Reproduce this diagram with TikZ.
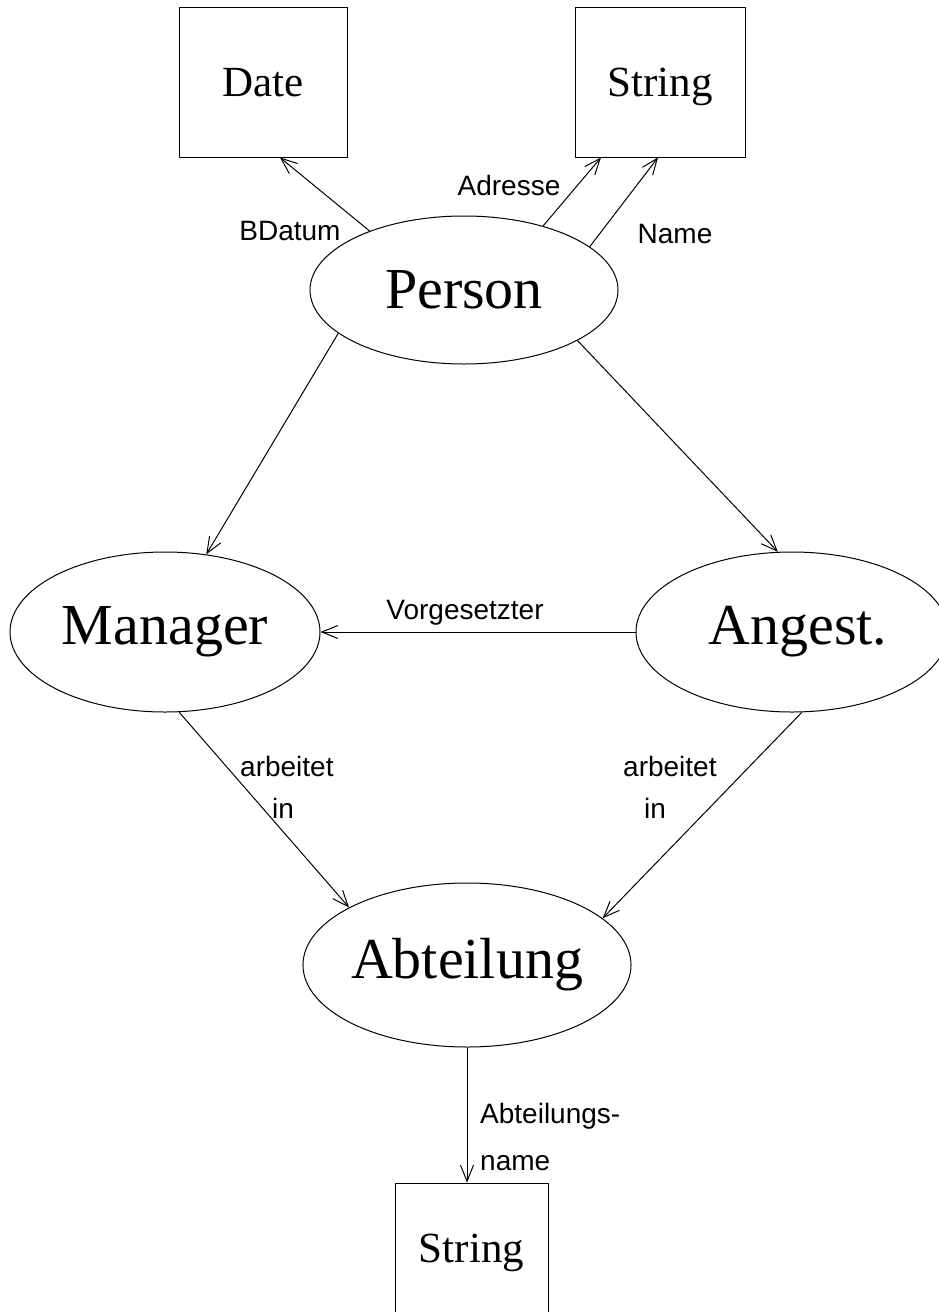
\documentclass[tikz,border=0pt]{standalone}
\usepackage{fontspec}
\setmainfont{Liberation Serif}
\newfontfamily\labelfont{Liberation Sans}
\usetikzlibrary{shapes.geometric,arrows.meta}
\tikzset{
  ent/.style={ellipse,draw,line width=1pt,inner sep=0pt,font=\fontsize{58}{60}\selectfont},
  typebox/.style={rectangle,draw,line width=1pt,inner sep=0pt,minimum width=#1,minimum height=150pt,text height=29pt,text depth=0pt,font=\fontsize{43}{46}\selectfont},
  arr/.style={line width=1pt,-{Straight Barb[length=16pt,width=13pt,line width=1pt]}},
  lbl/.style={font=\labelfont\fontsize{28}{30}\selectfont,inner sep=0pt},
}
\begin{document}
\begin{tikzpicture}[x=1pt,y=-1pt]
\useasboundingbox (0,0) rectangle (938,1312);
% type boxes
\node[typebox=168pt] (date) at (263,82) {Date};
\node[typebox=170pt] (str1) at (660,82) {String};
\node[typebox=153pt,text depth=20pt] (str2) at (471.5,1258) {String};
% entities
\node[ent,minimum width=308pt,minimum height=148pt] (person) at (464,290) {Person};
\node[ent,minimum width=310pt,minimum height=160pt] (manager) at (165,632) {Manager};
\node[ent,minimum width=312pt,minimum height=160pt] (angest) at (792,632) {\hspace*{12pt}Angest.};
\node[ent,minimum width=312pt,minimum height=164pt] (abt) at (467,965) {Abteilung};
% connectors
\draw[arr] (person.148.5) -- ([xshift=17pt]date.south);
\draw[arr] (person.39.4) -- ([xshift=-59pt]str1.south);
\draw[arr] (person.19) -- ([xshift=-2pt]str1.south);
\draw[arr] (person.199.2) -- (manager.62.5);
\draw[arr] (person.336.4) -- (angest.100);
\draw[arr] (angest.west) -- (manager.east);
\draw[arr] (manager.280.6) -- (abt.154.2);
\draw[arr] (angest.277.5) -- (abt.19.5);
\draw[arr] (abt.south) -- (abt.south |- str2.north);
% labels
\node[lbl,anchor=base] (lbd) at (290,240) {BDatum};
\node[lbl,anchor=base] (lad) at (509,195) {Adresse};
\node[lbl,anchor=base] (lna) at (675,243) {Name};
\node[lbl,anchor=base] (lvo) at (465,619) {Vorgesetzter};
\node[lbl,anchor=base west] (la1) at (240,776) {arbeitet};
\node[lbl,anchor=base west] (li1) at (272,818) {in};
\node[lbl,anchor=base west] (la2) at (623,776) {arbeitet};
\node[lbl,anchor=base west] (li2) at (644,818) {in};
\node[lbl,anchor=base west] (lab) at (480,1123) {Abteilungs-};
\node[lbl,anchor=base west] (lnm) at (480,1170) {name};
\end{tikzpicture}
\end{document}
